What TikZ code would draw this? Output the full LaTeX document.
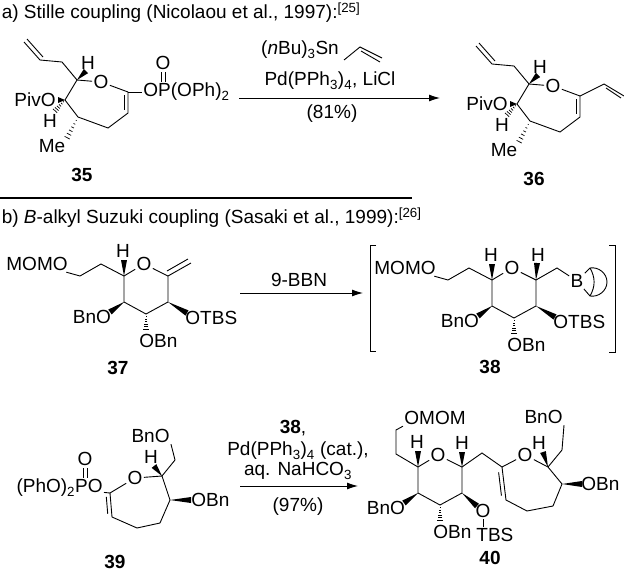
\documentclass[tikz,border=0pt]{standalone}
\usepackage{fontspec}
\setmainfont{Liberation Sans}
\usetikzlibrary{calc,arrows.meta}
\newcommand{\wedgeb}[2]{\fill (#1) -- ($(#2)!3pt!90:(#1)$) -- ($(#2)!3pt!-90:(#1)$) -- cycle;}
\newcommand{\hashb}[2]{\foreach \t [evaluate=\t as \w using 3.2*\t] in {0.15,0.3,...,0.95}
  {\draw[line width=0.7pt] ($(#1)!\t!(#2)!\w pt!90:(#2)$) -- ($(#1)!\t!(#2)!\w pt!-90:(#2)$);}}
\newcommand{\dbl}[3]{\draw ($(#1)!0.15!(#2)!4pt!#3:(#2)$) -- ($(#2)!0.15!(#1)!4pt!-#3:(#1)$);}
\newcommand{\sub}[1]{\textsubscript{#1}}
\begin{document}
\begin{tikzpicture}[x=1pt,y=-1pt,line width=0.9pt,
	atom/.style={inner sep=1pt, font=\fontsize{19}{22}\selectfont},
	lbl/.style={font=\fontsize{19}{22}\selectfont\bfseries},
	cond/.style={font=\fontsize{19}{22}\selectfont},
	arr/.style={-{Latex[length=11pt,width=7pt]}, line width=0.9pt}]
\useasboundingbox (0,0) rectangle (624,576);
% titles
\node[cond, anchor=west] (ta) at (-2,13) {a) Stille coupling (Nicolaou et al., 1997):\textsuperscript{[25]}};
\node[cond, anchor=west] (tb) at (-2,218) {b) \textit{B}-alkyl Suzuki coupling (Sasaki et al., 1999):\textsuperscript{[26]}};
\draw[line width=2.5pt] (0,198) coordinate (s1) -- (412,198) coordinate (s2);
% oxepene core of 35 and 36
\foreach \dx/\dy/\lab in {0/0/35, 452/4/36} {
  \begin{scope}[shift={(\dx,\dy)}]
    \coordinate (v1\lab) at (24,42); \coordinate (v2\lab) at (40,60);
    \coordinate (v3\lab) at (62,62); \coordinate (C2\lab) at (77,80);
    \node[atom] (O\lab) at (101,82) {O};
    \coordinate (C7\lab) at (128,92); \coordinate (C6\lab) at (128,113);
    \coordinate (C5\lab) at (108,128); \coordinate (C4\lab) at (78,117);
    \coordinate (C3\lab) at (65,100);
    \node[atom] (H\lab) at (88,63) {H};
    \node[atom, anchor=east] (Piv\lab) at (57,100) {PivO};
    \node[atom] (Hb\lab) at (50,121) {H};
    \node[atom] (Me\lab) at (52,146) {Me};
    \draw (v1\lab) -- (v2\lab) -- (v3\lab) -- (C2\lab) -- (O\lab) -- (C7\lab) -- (C6\lab) -- (C5\lab) -- (C4\lab) -- (C3\lab) -- (C2\lab);
    \draw ($(v1\lab)+(3,-3)$) -- ($(v2\lab)+(3,-3)$);
    \dbl{C7\lab}{C6\lab}{-90}
    \wedgeb{C2\lab}{86,71}
    \wedgeb{C3\lab}{58,100}
    \hashb{C3\lab}{54,112}
    \hashb{C4\lab}{66,140}
    \node[lbl] (n\lab) at (82,175) {\lab};
  \end{scope}
}
% 35: enol phosphate
\node[atom, anchor=west] (OP) at (142,92) {OP(OPh)\sub{2}};
\node[atom] (Op) at (163,63) {O};
\draw (C735) -- (OP);
\draw (161,72) coordinate (p1) -- (161,82) coordinate (p2);
\draw (165,72) coordinate (p3) -- (165,82) coordinate (p4);
% 36: vinyl
\coordinate (w1) at ($(C736)+(24,-12)$);
\coordinate (w2) at ($(w1)+(20,12)$);
\draw (C736) -- (w1) -- (w2);
\draw ($(w1)+(2,4)$) -- ($(w2)+(-3,2)$);
% arrow 1
\node[cond] (r1) at (300,50) {(\textit{n}Bu)\sub{3}Sn};
\coordinate (s1a) at (344,60); \coordinate (s1b) at (360,47); \coordinate (s1c) at (382,58);
\draw (s1a) -- (s1b) -- (s1c);
\draw ($(s1b)+(1,4)$) -- ($(s1c)+(-2,4)$);
\node[cond] (r2) at (330,81) {Pd(PPh\sub{3})\sub{4}, LiCl};
\node[cond] (r3) at (332,114) {(81\%)};
\coordinate (a1s) at (239,98); \coordinate (a1e) at (440,98);
\draw[arr] (a1s) -- (a1e);
% pyranose core of 37, 38 and 40
\foreach \dx/\dy/\lab in {0/0/37, 368/4/38, 294/191/40} {
  \begin{scope}[shift={(\dx,\dy)}]
    \coordinate (C5\lab) at (124,276);
    \node[atom] (O\lab) at (144,264) {O};
    \coordinate (C1\lab) at (168,276); \coordinate (C2\lab) at (168,302);
    \coordinate (C3\lab) at (146,314); \coordinate (C4\lab) at (124,302);
    \node[atom] (H\lab) at (123,251) {H};
    \node[atom] (BnO\lab) at (92,317) {BnO};
    \node[atom, anchor=west] (OBn\lab) at (138,341) {OBn};
    \draw (C5\lab) -- (O\lab) -- (C1\lab) -- (C2\lab) -- (C3\lab) -- (C4\lab) -- (C5\lab);
    \wedgeb{C5\lab}{124,260}
    \wedgeb{C4\lab}{110,312}
    \hashb{C3\lab}{146,331}
  \end{scope}
}
% 37 and 38: side chain and OTBS
\foreach \dx/\dy/\lab in {0/0/37, 368/4/38} {
  \begin{scope}[shift={(\dx,\dy)}]
    \node[atom] (MOMO\lab) at (37,264) {MOMO};
    \coordinate (k1\lab) at (80,276); \coordinate (k2\lab) at (101,264);
    \node[atom, anchor=west] (OTBS\lab) at (184,318) {OTBS};
    \draw (MOMO\lab) -- (k1\lab) -- (k2\lab) -- (C5\lab);
    \wedgeb{C2\lab}{187,313}
  \end{scope}
}
\node[lbl] (n37) at (118,368) {37};
\coordinate (m1) at (191,263);
\draw (C137) -- (m1);
\draw ($(C137)+(-1,-5)$) -- ($(m1)+(-3,-4)$);
% arrow 2
\node[cond] (r4) at (299,280) {9-BBN};
\coordinate (a2s) at (240,293); \coordinate (a2e) at (363,293);
\draw[arr] (a2s) -- (a2e);
% 38: alkylborane
\node[atom] (H138) at (538,255) {H};
\wedgeb{C138}{537,263}
\coordinate (k338) at (557,268);
\node[atom] (B) at (577,281) {B};
\draw (C138) -- (k338) -- (B);
\coordinate (b1) at (590,268); \coordinate (b2) at (590,296);
\draw (B) -- (b1) to[out=10,in=90] (607,282) to[out=-90,in=-10] (b2) -- (B);
\draw (b1) to[out=-60,in=60] (b2);
\draw (376,245) -- (370,245) -- (370,351) -- (376,351);
\draw (609,245) -- (615,245) -- (615,352) -- (609,352);
\node[lbl] (n38) at (490,367) {38};
% 39
\node[atom, anchor=east] (PO39) at (104,488) {(PhO)\sub{2}PO};
\node[atom] (Op39) at (85,459) {O};
\draw (83,468) coordinate (q1) -- (83,478) coordinate (q2);
\draw (87,468) coordinate (q3) -- (87,478) coordinate (q4);
\coordinate (C739) at (110,493);
\node[atom] (O39) at (135,478) {O};
\coordinate (C239) at (162,476); \coordinate (k39) at (175,460);
\node[atom, anchor=east] (BnO39) at (171,436) {BnO};
\node[atom] (H39) at (151,457) {H};
\coordinate (C339) at (170,500);
\node[atom, anchor=west] (OBn39) at (190,500) {OBn};
\coordinate (C439) at (160,523); \coordinate (C539) at (137,528); \coordinate (C639) at (112,517);
\draw (PO39) -- (C739) -- (O39) -- (C239) -- (C339) -- (C439) -- (C539) -- (C639) -- (C739);
\draw (C239) -- (k39) -- (BnO39.south east);
\dbl{C739}{C639}{-90}
\wedgeb{C239}{154,466}
\wedgeb{C339}{191,500}
\node[lbl] (n39) at (115,562) {39};
% arrow 3
\node[cond] (r5) at (293,428) {\textbf{38},};
\node[cond] (r6) at (298,451) {Pd(PPh\sub{3})\sub{4} (cat.),};
\node[cond] (r7) at (298,471) {aq. NaHCO\sub{3}};
\node[cond] (r8) at (298,507) {(97\%)};
\coordinate (a3s) at (240,486); \coordinate (a3e) at (358,486);
\draw[arr] (a3s) -- (a3e);
% 40
\coordinate (k140) at (396,454); \coordinate (k240) at (396,430);
\node[atom, anchor=west] (OMOM) at (403,418) {OMOM};
\draw (C540) -- (k140) -- (k240) -- (OMOM.south west);
\node[atom] (H140) at (462,443) {H};
\wedgeb{C140}{462,452}
\node[atom] (Ot) at (483,511) {O};
\node[atom, anchor=north west] (TBS) at (475,527) {TBS};
\wedgeb{C240}{477,506}
\draw (Ot.south) -- (Ot.south |- TBS.north);
\coordinate (k340) at (482,453); \coordinate (C7x) at (502,467);
\node[atom] (Ox) at (525,455) {O};
\coordinate (C2x) at (548,467); \coordinate (k4x) at (562,450);
\node[atom] (Hx) at (539,443) {H};
\node[atom, anchor=east] (BnOx) at (564,417) {BnO};
\coordinate (C3x) at (562,484);
\node[atom, anchor=west] (OBnx) at (580,484) {OBn};
\coordinate (C4x) at (553,506); \coordinate (C5x) at (527,511); \coordinate (C6x) at (506,500);
\draw (C140) -- (k340) -- (C7x) -- (Ox) -- (C2x) -- (C3x) -- (C4x) -- (C5x) -- (C6x) -- (C7x);
\draw (C2x) -- (k4x) -- (BnOx.south east);
\dbl{C7x}{C6x}{-90}
\wedgeb{C2x}{543,452}
\wedgeb{C3x}{582,484}
\node[lbl] (n40) at (490,558) {40};
\end{tikzpicture}
\end{document}
